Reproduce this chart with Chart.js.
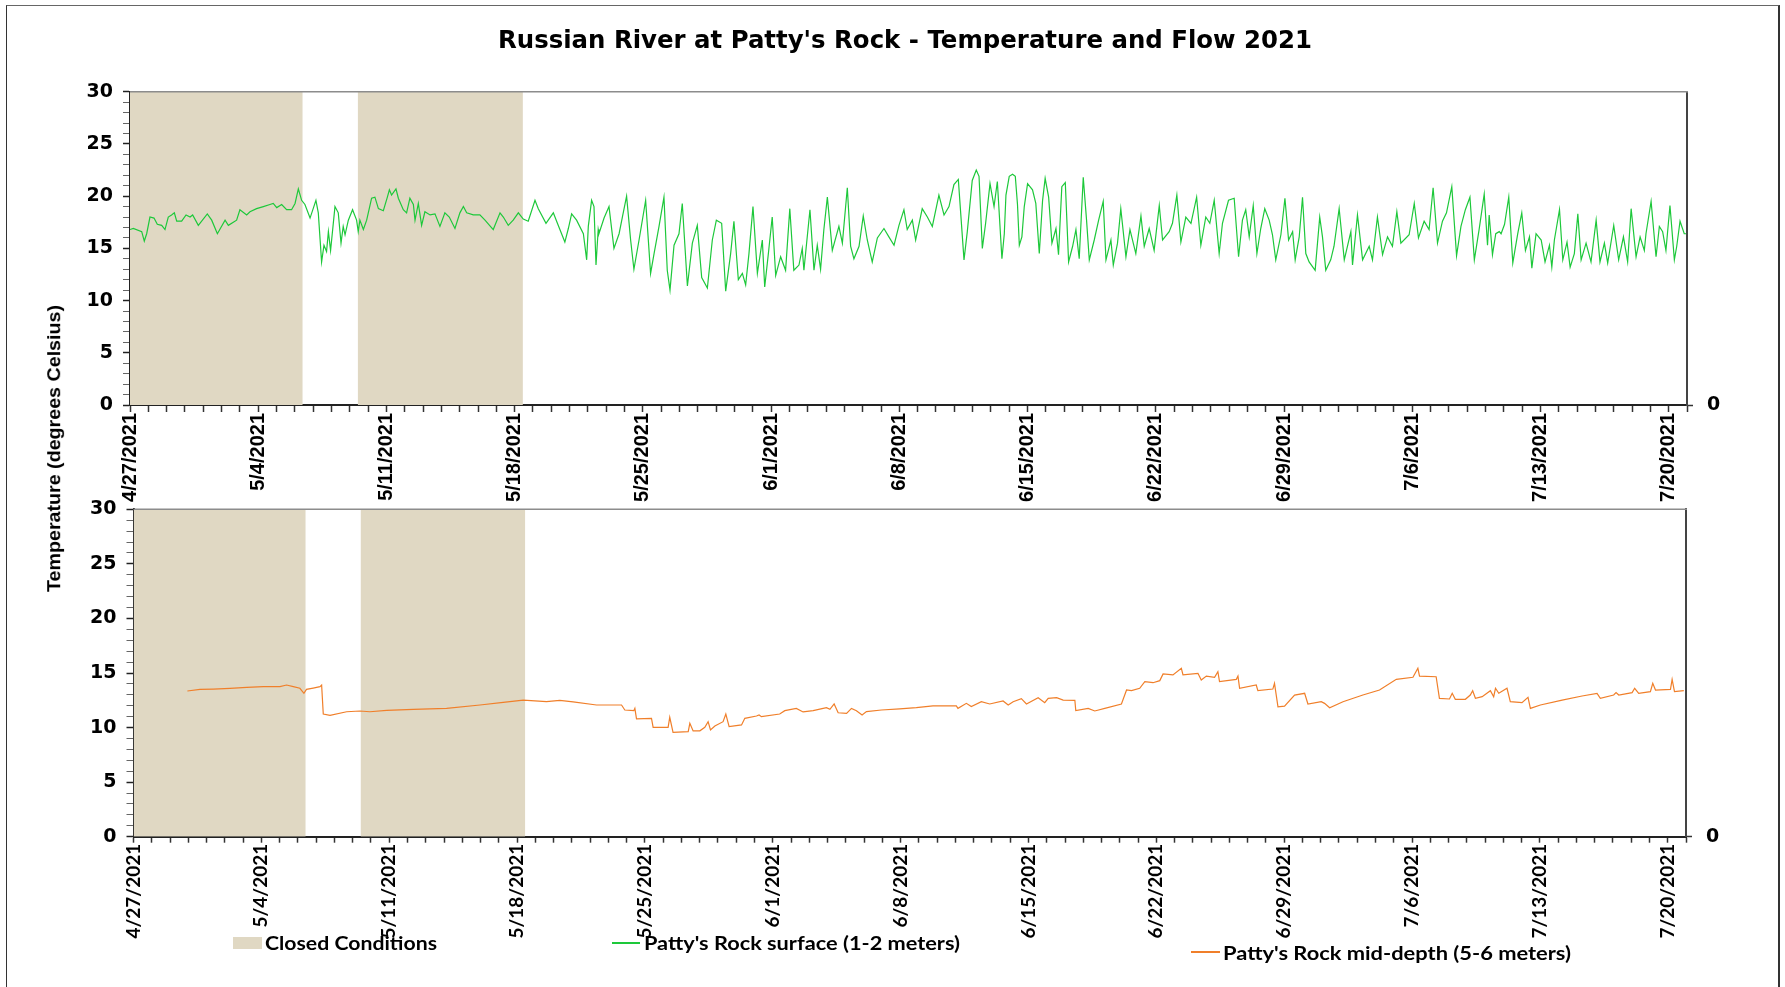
<!DOCTYPE html>
<html>
<head>
<meta charset="utf-8">
<script src="https://cdn.jsdelivr.net/npm/chart.js@4.4.1/dist/chart.umd.min.js"></script>
<style>
html,body{margin:0;padding:0;background:#fff;}
body{width:1785px;height:987px;position:relative;overflow:hidden;}
#frame{position:absolute;left:6px;top:5px;width:1774px;height:1000px;border-left:1.5px solid #333;border-top:1.5px solid #666;border-right:2px solid #333;box-sizing:border-box;}
canvas{position:absolute;left:0;}
.t{position:absolute;white-space:nowrap;line-height:1;color:#000;font-weight:bold;}
.sw{position:absolute;}
</style>
</head>
<body>
<div id="frame"></div>
<canvas id="top" width="1785" height="510" style="top:0px;width:1785px;height:510px;"></canvas>
<canvas id="bot" width="1785" height="537" style="top:450px;width:1785px;height:537px;"></canvas>

<div class="t" id="title" style="font-family:'DejaVu Sans';font-size:24px;">Russian River at Patty's Rock - Temperature and Flow 2021</div>
<div class="t" id="ytitle" style="font-family:'Liberation Sans';font-size:19px;">Temperature (degrees Celsius)</div>

<div class="sw" style="left:233px;top:937px;width:29px;height:12px;background:#E0D8C3;"></div>
<div class="t" id="lg1" style="font-family:Lato;font-size:18px;">Closed Conditions</div>
<div class="sw" style="left:612px;top:942px;width:28px;height:1.5px;background:#1DC83A;"></div>
<div class="t" id="lg2" style="font-family:Lato;font-size:18px;">Patty's Rock surface (1-2 meters)</div>
<div class="sw" style="left:1191px;top:951px;width:29px;height:1.5px;background:#F07F2A;"></div>
<div class="t" id="lg3" style="font-family:Lato;font-size:18px;">Patty's Rock mid-depth (5-6 meters)</div>

<script>
// ---------------- DATA ----------------
// x values are days since 4/27/2021 00:00
const weekLabels = ['4/27/2021','5/4/2021','5/11/2021','5/18/2021','5/25/2021','6/1/2021','6/8/2021','6/15/2021','6/22/2021','6/29/2021','7/6/2021','7/13/2021','7/20/2021'];
const yTickLabels = ['0','5','10','15','20','25','30'];

const closedStart = [0, 12.43];
const closedEnd   = [9.43, 21.45];

const surfaceDays = [
0.00,0.18,0.64,0.78,0.91,1.09,1.31,1.49,1.73,1.91,2.09,2.27,2.42,2.55,2.82,3.06,3.28,3.42,3.73,4.22,
4.46,4.77,5.19,5.37,5.82,6.00,6.37,6.55,6.91,7.28,7.64,7.82,8.01,8.28,8.55,8.82,9.01,9.19,9.37,9.55,
9.83,10.15,10.28,10.46,10.59,10.73,10.83,10.95,11.19,11.37,11.52,11.64,11.74,11.92,12.15,12.37,12.46,12.55,12.74,12.92,
13.19,13.37,13.56,13.83,14.05,14.16,14.28,14.52,14.65,14.92,15.10,15.28,15.47,15.56,15.74,15.92,16.10,16.38,16.65,16.92,
17.19,17.43,17.74,18.01,18.20,18.38,18.74,19.10,19.38,19.83,20.20,20.38,20.65,20.92,21.20,21.47,21.74,22.11,22.29,22.71,
23.11,23.29,23.74,23.93,24.11,24.38,24.75,24.93,25.02,25.20,25.33,25.44,25.56,
25.60,25.88,26.15,26.42,26.70,26.88,27.11,27.33,27.51,27.79,28.15,28.42,28.61,28.88,29.15,29.33,29.48,29.70,29.97,30.15,
30.43,30.70,30.97,31.21,31.52,31.79,32.01,32.30,32.52,32.79,32.97,33.21,33.43,33.61,33.79,34.01,34.25,34.52,34.65,34.85,
35.06,35.25,35.52,35.79,36.02,36.24,36.52,36.70,36.79,37.12,37.34,37.52,37.70,37.88,38.07,38.34,38.70,38.89,39.16,39.34,
39.52,39.80,40.03,40.25,40.52,40.80,41.16,41.43,41.71,41.98,42.25,42.43,42.71,42.89,43.25,43.53,43.80,44.16,44.44,44.71,
44.98,45.22,45.53,45.71,45.98,46.20,46.35,46.53,46.71,46.95,47.17,47.35,
47.60,47.73,47.82,48.00,48.18,48.33,48.45,48.55,48.69,48.82,49.00,49.27,49.45,49.64,49.82,49.96,50.15,50.33,50.55,50.69,
50.87,51.06,51.24,51.46,51.64,51.82,52.04,52.22,52.37,52.64,52.88,53.13,53.28,53.55,53.68,53.91,54.09,54.37,54.59,54.91,
55.19,55.37,55.64,55.91,56.19,56.37,56.73,56.91,57.15,57.37,57.64,57.92,58.23,58.46,58.73,58.95,59.19,59.46,59.64,59.97,
60.28,60.52,60.73,60.91,61.10,61.32,61.52,61.73,61.95,62.19,62.37,62.55,62.83,63.05,63.25,63.47,63.61,63.83,64.01,64.19,
64.37,64.70,64.95,65.10,65.28,65.55,65.73,66.01,66.29,66.65,66.74,67.01,67.29,67.65,67.83,68.10,68.38,68.65,68.92,69.16,
69.38,69.83,70.11,70.34,70.65,70.92,71.14,71.38,71.65,71.87,72.16,72.42,72.66,72.90,73.15,73.39,73.65,73.93,74.11,74.20,
74.38,74.56,74.75,
74.85,75.04,75.27,75.49,75.76,75.98,76.18,76.40,76.53,76.76,77.04,77.25,77.49,77.62,77.76,78.04,78.22,78.45,78.62,78.85,
79.04,79.22,79.49,79.76,80.04,80.25,80.49,80.67,81.00,81.27,81.53,81.76,81.95,82.22,82.44,82.67,82.76,83.04,83.31,83.49,
83.67,83.85,84.07,84.31,84.44,84.62,84.85,84.95
];
const surfaceTemps = [
16.8,16.9,16.6,15.7,16.4,18.0,17.9,17.3,17.2,16.8,18.0,18.2,18.4,17.6,17.6,18.2,18.0,18.2,17.2,18.3,
17.7,16.4,17.7,17.2,17.7,18.7,18.2,18.5,18.8,19.0,19.2,19.3,18.9,19.2,18.7,18.7,19.3,20.7,19.6,19.2,
17.9,19.6,18.4,13.7,15.3,14.7,16.6,14.8,19.0,18.4,15.5,17.1,16.3,17.7,18.7,17.7,16.6,17.7,16.8,17.7,
19.8,19.9,18.8,18.6,19.9,20.6,20.1,20.7,19.8,18.7,18.4,19.8,19.2,17.7,19.3,17.2,18.5,18.2,18.3,17.1,
18.4,18.0,16.9,18.4,19.0,18.4,18.2,18.2,17.7,16.8,18.4,18.0,17.2,17.7,18.4,17.8,17.6,19.6,18.8,17.4,
18.4,17.6,15.6,16.9,18.3,17.7,16.4,13.9,17.1,19.6,19.0,13.4,16.8,
16.4,17.9,19.0,15.0,16.4,18.0,20.0,15.8,13.0,15.8,19.6,12.6,14.5,17.1,19.9,12.9,11.0,15.3,16.4,19.3,
11.4,15.5,17.2,12.2,11.2,15.8,17.7,17.4,10.9,14.5,17.6,12.0,12.6,11.5,14.5,19.0,12.6,15.8,11.3,14.5,
18.0,12.4,14.2,12.9,18.8,12.9,13.4,15.0,12.9,18.7,12.9,15.3,13.0,16.8,19.9,14.8,17.1,15.5,20.8,15.2,
14.0,15.2,18.1,15.8,13.7,16.0,16.9,16.1,15.3,17.2,18.7,16.8,17.7,15.8,18.8,18.0,17.1,20.1,18.2,19.0,
21.1,21.6,13.9,16.6,21.5,22.5,21.9,15.0,17.4,21.2,19.0,21.4,
14.0,16.4,20.1,21.9,22.1,21.9,19.2,15.3,16.1,19.0,21.2,20.6,19.3,14.5,19.6,21.7,19.9,15.5,16.9,14.4,
20.9,21.3,13.7,15.2,16.8,14.0,21.8,17.7,13.9,15.8,17.7,19.5,13.9,15.8,13.4,15.5,18.8,14.2,16.8,14.5,
18.1,15.2,16.9,14.8,19.1,15.8,16.6,17.4,20.1,15.6,18.0,17.4,19.9,15.3,18.0,17.4,19.6,14.5,17.4,19.6,
19.8,14.2,17.7,18.7,16.1,19.1,14.5,16.9,18.8,17.7,16.3,13.9,16.3,19.8,15.8,16.6,13.9,16.1,19.9,14.5,
13.7,12.9,18.0,16.1,12.9,13.9,15.2,18.8,13.9,16.6,13.4,18.2,13.9,15.2,13.9,18.0,14.4,16.1,15.2,18.5,
15.5,16.3,19.3,16.0,17.6,16.8,20.8,15.5,17.6,18.4,20.9,14.3,17.1,18.7,19.9,13.9,16.8,20.2,15.3,18.2,
14.4,16.4,16.6,
16.4,17.3,19.9,13.6,16.4,18.4,14.8,16.1,13.1,16.4,15.8,13.7,15.3,13.2,15.8,18.7,13.9,15.6,13.2,14.5,
18.3,13.9,15.5,13.7,17.7,13.7,15.5,13.6,17.2,13.9,16.1,13.7,18.8,14.2,16.1,14.8,16.4,19.5,14.2,17.1,
16.6,14.8,19.1,13.9,15.2,17.6,16.4,16.4
];

const midDays = [
2.95,3.64,4.37,5.28,6.20,7.11,8.02,8.38,8.75,9.11,9.33,9.47,9.84,10.21,10.30,10.39,10.76,11.67,12.40,12.94,
13.86,15.32,17.14,18.97,20.24,21.34,22.61,23.34,24.07,25.35,26.45,26.72,26.90,27.39,27.45,27.54,28.36,28.45,29.27,29.36,
29.54,30.37,30.46,30.64,31.01,31.28,31.46,31.59,31.83,32.28,32.43,32.61,33.29,33.47,34.11,34.25,34.38,35.38,35.66,36.29,
36.66,37.21,37.76,37.94,38.13,38.36,38.58,39.04,39.31,39.58,39.89,40.13,40.95,41.95,42.86,43.77,45.05,45.14,45.60,45.87,
46.42,46.88,47.61,47.89,48.16,48.61,48.89,49.53,49.89,50.08,50.54,50.90,51.54,51.59,52.27,52.63,53.18,54.09,54.37,54.64,
55.09,55.37,55.82,56.19,56.37,56.91,57.37,57.46,58.28,58.46,58.74,59.19,59.37,59.46,60.38,60.47,60.56,61.47,61.56,62.38,
62.47,62.66,63.02,63.57,64.12,64.30,65.03,65.21,65.49,66.22,67.31,68.22,69.14,70.05,70.32,70.41,71.32,71.50,72.05,72.20,
72.37,72.92,73.19,73.32,73.47,73.84,74.29,74.47,74.57,74.75,75.20,75.38,76.02,76.35,76.48,77.03,78.22,79.31,80.13,80.31,
81.04,81.17,81.32,82.05,82.19,82.41,83.05,83.18,83.33,84.15,84.24,84.37,84.88
];
const midTemps = [
13.35,13.50,13.53,13.60,13.69,13.75,13.75,13.90,13.75,13.60,13.14,13.50,13.62,13.75,13.90,11.24,11.12,11.45,11.52,11.45,
11.58,11.67,11.76,12.07,12.31,12.52,12.37,12.50,12.35,12.07,12.07,12.07,11.61,11.55,11.76,10.79,10.85,10.02,10.02,10.94,
9.56,9.62,10.39,9.69,9.70,10.02,10.54,9.78,10.14,10.54,11.24,10.08,10.24,10.85,11.06,11.15,11.00,11.24,11.55,11.76,
11.43,11.55,11.76,11.82,11.67,12.16,11.36,11.30,11.76,11.55,11.15,11.46,11.61,11.72,11.82,11.98,11.98,11.76,12.22,11.92,
12.37,12.16,12.44,12.07,12.37,12.65,12.16,12.74,12.28,12.68,12.74,12.52,12.50,11.55,11.76,11.52,11.76,12.16,13.44,13.38,
13.60,14.21,14.11,14.30,14.91,14.82,15.43,14.82,14.97,14.36,14.72,14.61,15.12,14.21,14.42,14.72,13.60,13.90,13.38,13.53,
14.05,11.91,11.97,12.98,13.14,12.16,12.37,12.22,11.82,12.37,12.98,13.44,14.42,14.61,15.43,14.72,14.66,12.68,12.62,13.14,
12.59,12.59,12.98,13.38,12.68,12.83,13.38,12.83,13.60,13.14,13.60,12.37,12.28,12.77,11.76,12.07,12.52,12.89,13.14,12.68,
12.98,13.20,12.98,13.20,13.60,13.14,13.29,14.05,13.44,13.50,14.42,13.29,13.38
];

// ---------------- CHARTS ----------------
const GREEN = '#1DC83A', ORANGE = '#F07F2A', CLOSED = '#E0D8C3';
const X_MAX = 85, Y_MAX = 30;

const xy = (xs, ys) => xs.map((x, i) => ({x: x, y: ys[i]}));

function closedDatasets() {
  return closedStart.map((s, i) => ({
    type: 'line',
    data: [{x: s, y: Y_MAX}, {x: closedEnd[i], y: Y_MAX}],
    borderWidth: 0, pointRadius: 0, fill: 'origin',
    backgroundColor: CLOSED, borderColor: CLOSED, order: 5
  }));
}

const topLine = {
  id: 'topLine',
  afterDatasetsDraw(chart) {
    const {ctx, chartArea: a} = chart;
    ctx.save();
    ctx.strokeStyle = '#8c8c8c'; ctx.lineWidth = 1.5;
    ctx.beginPath(); ctx.moveTo(a.left, a.top); ctx.lineTo(a.right + 1, a.top); ctx.stroke();
    ctx.restore();
  }
};

function panel(canvasId, series, color, o) {
  const dayTicks = [];
  for (let d = 0; d <= X_MAX; d++) dayTicks.push(d);
  const tempTicks = [];
  for (let v = 0; v <= Y_MAX; v++) tempTicks.push(v);
  return new Chart(document.getElementById(canvasId), {
    type: 'line',
    data: {
      datasets: [{
        data: series, borderColor: color, borderWidth: 1.2, pointRadius: 0,
        tension: 0, fill: false, order: 1
      }].concat(closedDatasets())
    },
    options: {
      responsive: false, animation: false, devicePixelRatio: 1,
      layout: {padding: o.padding},
      plugins: {legend: {display: false}, tooltip: {enabled: false}},
      scales: {
        x: {
          type: 'linear', min: 0, max: X_MAX, z: 1,
          afterBuildTicks: s => { s.ticks = dayTicks.map(v => ({value: v})); },
          afterFit: s => { s.height = o.xHeight; },
          ticks: {
            autoSkip: false, minRotation: 90, maxRotation: 90, padding: o.xPad,
            color: '#000', font: o.xFont,
            callback: v => (v % 7 === 0 ? weekLabels[v / 7] : '')
          },
          grid: {drawOnChartArea: false, drawTicks: true, tickLength: o.xTick, tickColor: '#333', tickWidth: 1.5},
          border: {display: true, color: '#222', width: 2}
        },
        y: {
          type: 'linear', position: 'left', min: 0, max: Y_MAX, z: 1,
          afterBuildTicks: s => { s.ticks = tempTicks.map(v => ({value: v})); },
          afterFit: s => { s.width = 50; },
          ticks: {
            autoSkip: false, padding: 10, color: '#000',
            font: {family: 'DejaVu Sans', weight: 'bold', size: 19},
            callback: v => (v % 5 === 0 ? yTickLabels[v / 5] : '')
          },
          grid: {
            drawOnChartArea: false, drawTicks: true, tickLength: 7,
            tickColor: c => (c.tick && c.tick.value % 5 === 0 ? '#222' : '#666'),
            tickWidth: c => (c.tick && c.tick.value % 5 === 0 ? 1.5 : 1)
          },
          border: {display: true, color: '#222', width: 2}
        },
        y2: {
          type: 'linear', position: 'right', min: 0, max: Y_MAX, z: 1,
          afterBuildTicks: s => { s.ticks = [{value: 0}]; },
          afterFit: s => { s.width = 40; },
          ticks: {
            padding: 14, color: '#000',
            font: {family: 'DejaVu Sans', weight: 'bold', size: 19},
            callback: v => yTickLabels[0]
          },
          grid: {drawOnChartArea: false, drawTicks: true, tickLength: 6, tickColor: '#333', tickWidth: 1.5},
          border: {display: true, color: '#444', width: 2}
        }
      }
    },
    plugins: [topLine]
  });
}

panel('top', xy(surfaceDays, surfaceTemps), GREEN, {
  padding: {top: 91.7, left: 80, right: 58, bottom: 0},
  xHeight: 105, xPad: 1, xTick: 7,
  xFont: {family: 'Liberation Sans', weight: 'bold', size: 20}
});
panel('bot', xy(midDays, midTemps), ORANGE, {
  padding: {top: 59.3, left: 83.5, right: 59, bottom: 0},
  xHeight: 150.3, xPad: 1, xTick: 6,
  xFont: {family: 'Lato', weight: 'bold', size: 19}
});

// ---------------- TEXT PLACEMENT ----------------
function fitH(id, left, targetW, cy, center) {
  const el = document.getElementById(id);
  const r = el.getBoundingClientRect();
  const s = targetW / r.width;
  el.style.transformOrigin = 'left center';
  el.style.transform = 'scaleX(' + s + ')';
  el.style.left = (center ? left - targetW / 2 : left) + 'px';
  el.style.top = (cy - r.height / 2) + 'px';
}
function fitV(id, cx, cy, targetL) {
  const el = document.getElementById(id);
  const r = el.getBoundingClientRect();
  const s = targetL / r.width;
  el.style.left = (cx - r.width / 2) + 'px';
  el.style.top = (cy - r.height / 2) + 'px';
  el.style.transformOrigin = 'center center';
  el.style.transform = 'rotate(-90deg) scaleX(' + s + ')';
}
fitH('title', 904.5, 814, 39.5, true);
fitV('ytitle', 53.5, 448.6, 287);
fitH('lg1', 265, 172, 943.3, false);
fitH('lg2', 644, 316, 943.3, false);
fitH('lg3', 1223, 348, 953, false);
</script>
</body>
</html>
